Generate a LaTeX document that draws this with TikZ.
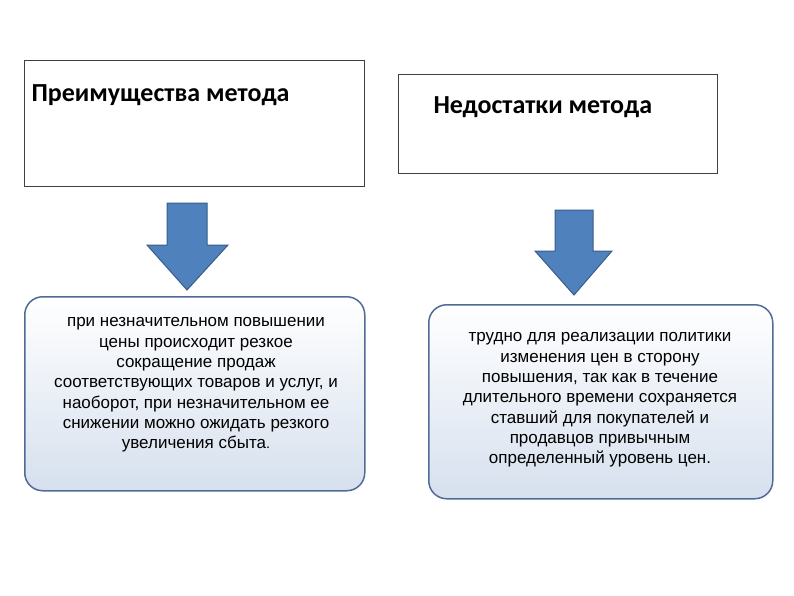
\documentclass[tikz,border=0pt]{standalone}
\usepackage{fontspec}
\setmainfont{Liberation Sans}
\newfontfamily\calfnt{Carlito}
\begin{document}
\begin{tikzpicture}[x=1pt,y=-1pt,
  hbox/.style={draw=black!75, line width=1pt, fill=white},
  rbox/.style={draw={rgb,255:red,80;green,108;blue,150}, line width=1.5pt, rounded corners=18pt, top color=white, bottom color={rgb,255:red,214;green,224;blue,238}},
  arr/.style={fill={rgb,255:red,79;green,129;blue,189}, draw={rgb,255:red,56;green,93;blue,138}, line width=1pt},
  txt/.style={align=center, font=\fontsize{17}{20.3}\selectfont},
  ttl/.style={anchor=west, font=\calfnt\bfseries\fontsize{26}{30}\selectfont}]
\useasboundingbox (0,0) rectangle (794,595);
\node[hbox, minimum width=340pt, minimum height=126pt, anchor=north west] (b1) at (24,60) {};
\node[ttl] (t1) at (28,95) {Преимущества метода};
\node[hbox, minimum width=319pt, minimum height=99pt, anchor=north west] (b2) at (398,74) {};
\node[ttl] (t2) at (430,107) {Недостатки метода};
\draw[arr] (167,203) -- (207,203) -- (207,245) -- (228,245) -- (187,290) -- (147,245) -- (167,245) -- cycle;
\draw[arr] (555,210) -- (593,210) -- (593,251) -- (612,251) -- (574,295) -- (535,251) -- (555,251) -- cycle;
\node[rbox, minimum width=340pt, minimum height=194pt, anchor=north west] (r1) at (24,296) {};
\node[txt] (p1) at (196,385) {при незначительном повышении\\цены происходит резкое\\сокращение продаж\\соответствующих товаров и услуг, и\\наоборот, при незначительном ее\\снижении можно ожидать резкого\\увеличения сбыта{\Large.}};
\node[rbox, minimum width=344pt, minimum height=194pt, anchor=north west] (r2) at (428,304) {};
\node[txt] (p2) at (600,400) {трудно для реализации политики\\изменения цен в сторону\\повышения, так как в течение\\длительного времени сохраняется\\ставший для покупателей и\\продавцов привычным\\определенный уровень цен.};
\end{tikzpicture}
\end{document}
